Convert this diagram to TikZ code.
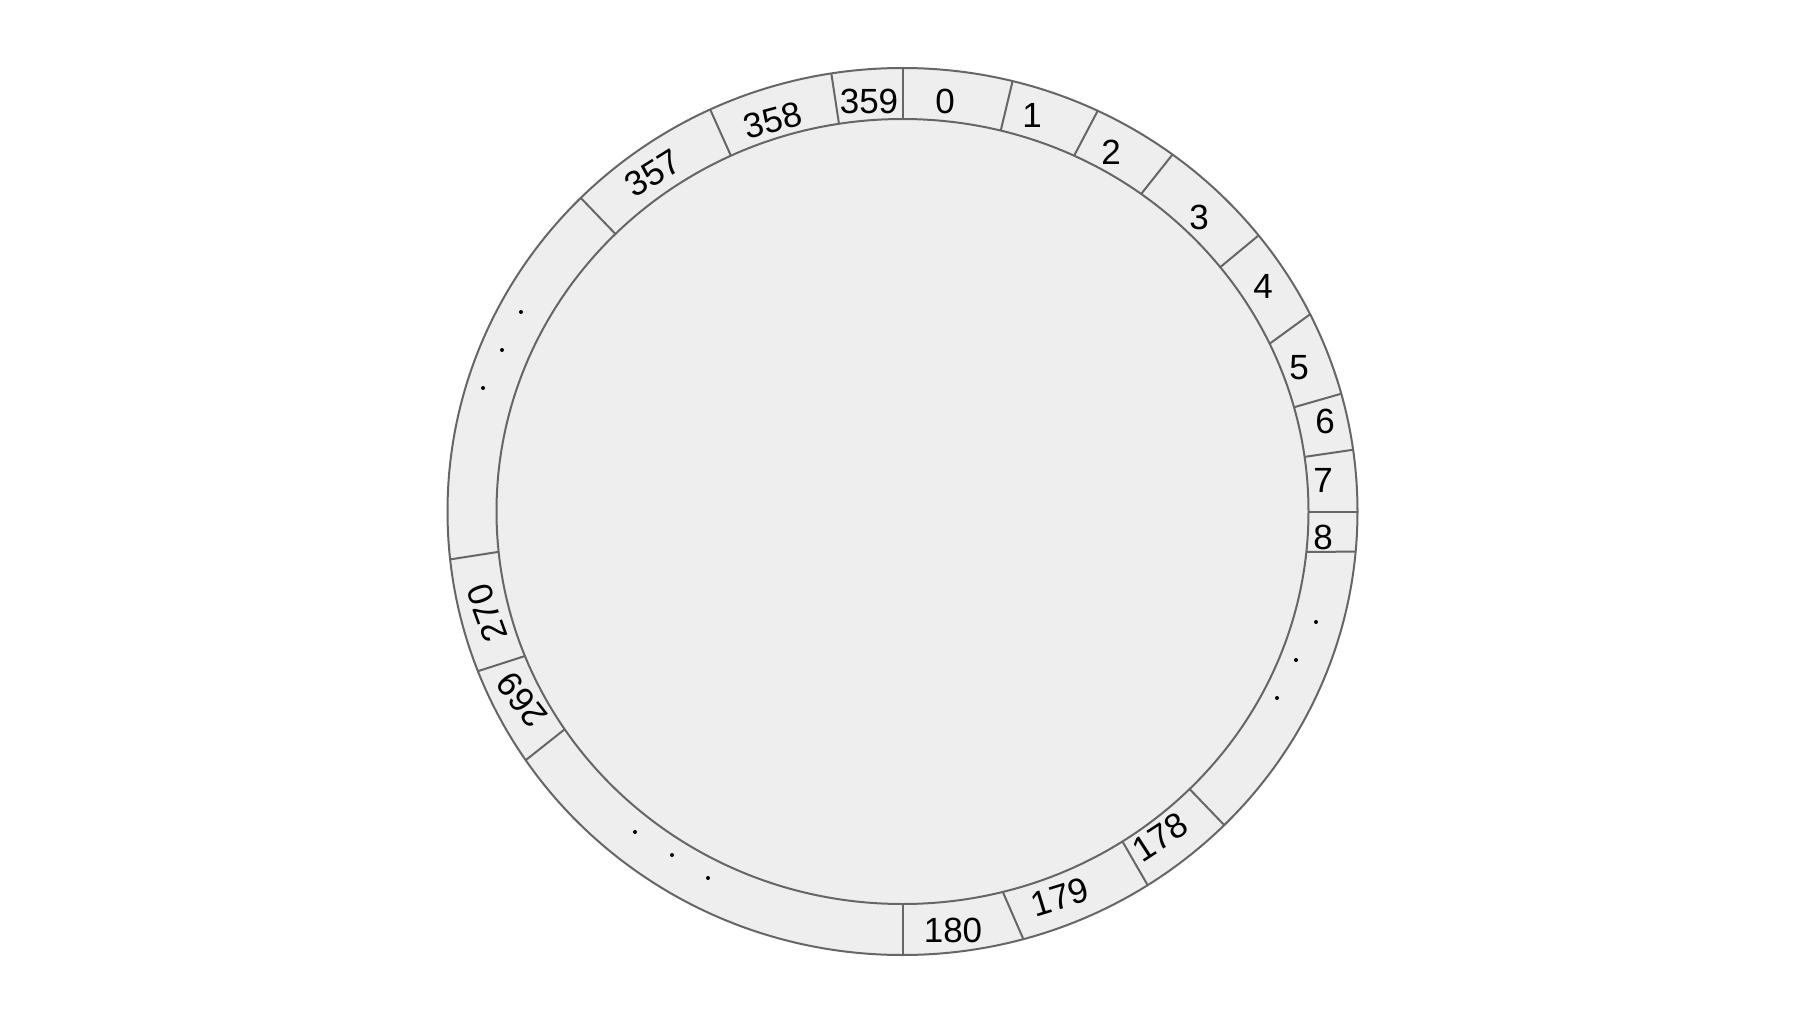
\documentclass[tikz,border=0pt]{standalone}
\usepackage{fontspec}
\setmainfont{Liberation Sans}
\definecolor{ringfill}{HTML}{EEEEEE}
\definecolor{rimline}{HTML}{666666}

\begin{document}
\begin{tikzpicture}[
  x=0.5pt, y=-0.5pt,
  rim/.style={draw=rimline, line width=1pt},
  num/.style={font=\fontsize{17.5}{21}\selectfont, inner sep=0pt},
  gapdot/.style={circle, fill=black, inner sep=0pt, minimum size=2pt}
]
\useasboundingbox (0,0) rectangle (1806,1012);
\coordinate (c) at (902.5,511.5);

% ring and disc
\filldraw[rim, fill=ringfill] (c) ellipse [x radius=455, y radius=443.5];
\draw[rim] (c) ellipse [x radius=406, y radius=392.5];

% separators (inner angle / outer angle)
\foreach \ai/\ao in {-45/-45, -25/-25, -9/-9, 0/0, 14/14, 25/25.4, 36/36.4,
    51.5/51.5, 64.7/63.6, 74.6/74.6, 82/82, 90/90, 95.9/95.2, 135/135,
    147.2/147.4, 165.7/164.6, 180/180, 236.3/235.9, 248.4/248.9, 264.1/263.8}
  \draw[rim] ({902.5+406*sin(\ai)},{511.5-392.5*cos(\ai)})
    -- ({902.5+455*sin(\ao)},{511.5-443.5*cos(\ao)});

% slot numbers
\node[num] (s0) at (945,101) {0};
\node[num] (s359) at (869,101) {359};
\node[num, rotate=15] (s358) at (773,120) {358};
\node[num, rotate=32] (s357) at (653,173) {357};
\node[num] (s1) at (1032,115) {1};
\node[num] (s2) at (1111,152) {2};
\node[num] (s3) at (1199,217) {3};
\node[num] (s4) at (1263,286) {4};
\node[num] (s5) at (1299,368) {5};
\node[num] (s6) at (1325,421) {6};
\node[num] (s7) at (1323,480) {7};
\node[num] (s8) at (1323,537) {8};
\node[num, rotate=33] (s178) at (1160,837) {178};
\node[num, rotate=17] (s179) at (1060,897) {179};
\node[num] (s180) at (953,930) {180};
\node[num, rotate=110] (s270) at (487,613) {270};
\node[num, rotate=128] (s269) at (522,700) {269};

% dots in the gaps
\foreach \x/\y [count=\i] in {521/312, 502/350, 483/388,
    1316/622, 1296/660, 1277/698, 635/832, 672/855, 708/878}
  \node[gapdot] (dot\i) at (\x,\y) {};
\end{tikzpicture}
\end{document}
